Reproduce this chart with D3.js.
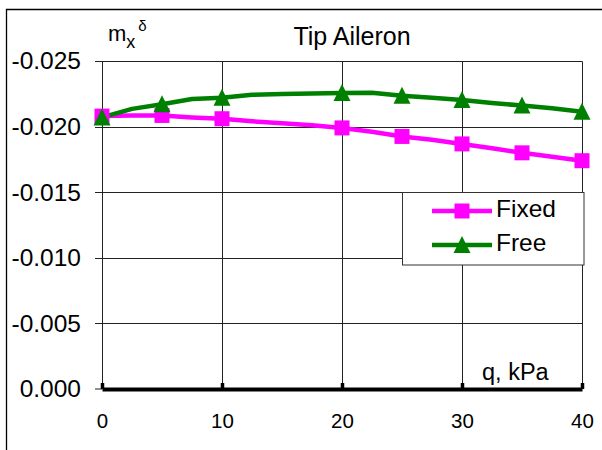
<!DOCTYPE html>
<html>
<head>
<meta charset="utf-8">
<script src="https://cdn.jsdelivr.net/npm/d3@7"></script>
<style>
  body { margin: 0; background: #fff; }
  svg text { font-family: "Liberation Sans", Arial, sans-serif; fill: #000; }
</style>
</head>
<body>
<div id="chart"></div>
<script>
// q, kPa : line points every 2.5, markers only at some of them
var qLine = [0, 2.5, 5, 7.5, 10, 12.5, 15, 17.5, 20, 22.5, 25, 27.5, 30, 32.5, 35, 37.5, 40];
var fixedLine = [-0.0208, -0.02085, -0.02085, -0.0207, -0.0206, -0.0204, -0.02025, -0.0201, -0.0199,
                 -0.0196, -0.01925, -0.0190, -0.01868, -0.01835, -0.0180, -0.0177, -0.0174];
var freeLine = [-0.0207, -0.02135, -0.0217, -0.0221, -0.0222, -0.02242, -0.02248, -0.02253, -0.02256,
                -0.02258, -0.02236, -0.0222, -0.02203, -0.0218, -0.0216, -0.0214, -0.02114];
var qMark = [0, 5, 10, 20, 25, 30, 35, 40];
var xTicks = [0, 10, 20, 30, 40];
var yTicks = [-0.025, -0.020, -0.015, -0.010, -0.005, 0.000];
var seriesNames = ["Fixed", "Free"];

var svgWidth = 602, svgHeight = 450;
var svg = d3.select("#chart").append("svg")
    .attr("width", svgWidth)
    .attr("height", svgHeight);

// outer frame (only top and left visible)
svg.append("path")
    .attr("d", "M6.5,450V9.5H602")
    .attr("fill", "none")
    .attr("stroke", "#000")
    .attr("stroke-width", 1.3);

var x = d3.scaleLinear().domain([0, 40]).range([102, 582]);
var y = d3.scaleLinear().domain([-0.025, 0]).range([61, 389]);

var fmt = function(d) { return d3.format(".3f")(d).replace("\u2212", "-"); };

// grid
var grid = svg.append("g").attr("stroke", "#222").attr("stroke-width", 1);
grid.selectAll(".h").data(yTicks.slice(0, -1)).enter().append("line")
    .attr("x1", 95).attr("x2", x(40) + 0.5)
    .attr("y1", d => Math.round(y(d)) + 0.5).attr("y2", d => Math.round(y(d)) + 0.5);
grid.selectAll(".v").data(xTicks).enter().append("line")
    .attr("x1", d => x(d) + 0.5).attr("x2", d => x(d) + 0.5)
    .attr("y1", y(-0.025) + 0.5).attr("y2", y(0));

// y axis labels
var yAxis = svg.append("g")
    .attr("transform", "translate(102,0)")
    .call(d3.axisLeft(y).tickValues(yTicks).tickFormat(fmt).tickSize(7).tickPadding(14));
yAxis.select(".domain").remove();
yAxis.selectAll("line").remove();
yAxis.selectAll("text").attr("font-size", 24.5).style("font-family", "'Liberation Sans', Arial, sans-serif");
svg.append("line").attr("x1", 95).attr("x2", 102).attr("y1", y(0)).attr("y2", y(0))
    .attr("stroke", "#222");

// x axis: thick line with short upward ticks
var xAxis = svg.append("g")
    .attr("transform", "translate(0," + y(0) + ")")
    .call(d3.axisBottom(x).tickValues(xTicks).tickSizeInner(-6).tickSizeOuter(0).tickPadding(24));
xAxis.select(".domain").attr("stroke", "#000").attr("stroke-width", 4);
xAxis.selectAll(".tick line").attr("stroke", "#000").attr("stroke-width", 3.5);
xAxis.selectAll("text").attr("font-size", 20.5).style("font-family", "'Liberation Sans', Arial, sans-serif");

// lines
var colors = ["#ff00ff", "#008000"];
var lineData = [fixedLine, freeLine];
var line = d3.line().x((d, i) => x(qLine[i])).y(d => y(d));
lineData.forEach(function(vals, k) {
  svg.append("path")
      .datum(vals)
      .attr("d", line)
      .attr("fill", "none")
      .attr("stroke", colors[k])
      .attr("stroke-width", 4.5)
      .attr("stroke-linejoin", "round");
});

var square = d3.symbol().type(d3.symbolSquare).size(225);
var tri = "M0,-9L8.5,8L-8.5,8Z";

function drawMarker(g, k, cx, cy) {
  if (k === 0) {
    g.append("path").attr("d", square()).attr("transform", "translate(" + cx + "," + cy + ")")
        .attr("fill", colors[0]);
  } else {
    g.append("path").attr("d", tri).attr("transform", "translate(" + cx + "," + cy + ")")
        .attr("fill", colors[1]);
  }
}

var marks = svg.append("g");
lineData.forEach(function(vals, k) {
  qLine.forEach(function(q, i) {
    if (qMark.indexOf(q) >= 0) drawMarker(marks, k, x(q), y(vals[i]));
  });
});

// title and axis titles
svg.append("text").attr("x", 352).attr("y", 45).attr("text-anchor", "middle")
    .attr("font-size", 25).text("Tip Aileron");

var yt = svg.append("text").attr("x", 108).attr("y", 41).attr("font-size", 22);
yt.append("tspan").text("m");
yt.append("tspan").attr("font-size", 18).attr("dy", 6.5).text("x");
yt.append("tspan").attr("font-size", 15).attr("dx", 3).attr("dy", -17).text("\u03b4");

svg.append("text").attr("x", 482).attr("y", 380).attr("font-size", 23.5).text("q, kPa");

// legend
var legend = svg.append("g");
legend.append("rect")
    .attr("x", 402.5).attr("y", 192.5).attr("width", 181.5).attr("height", 72.5)
    .attr("fill", "#fff").attr("stroke", "#333").attr("stroke-width", 1);
var legY = [211, 245];
seriesNames.forEach(function(name, k) {
  legend.append("line")
      .attr("x1", 432).attr("x2", 492).attr("y1", legY[k]).attr("y2", legY[k])
      .attr("stroke", colors[k]).attr("stroke-width", 4.5);
  drawMarker(legend, k, 462, legY[k]);
  legend.append("text").attr("x", 496).attr("y", legY[k] + 5.5)
      .attr("font-size", 24.5).text(name);
});
</script>
</body>
</html>
